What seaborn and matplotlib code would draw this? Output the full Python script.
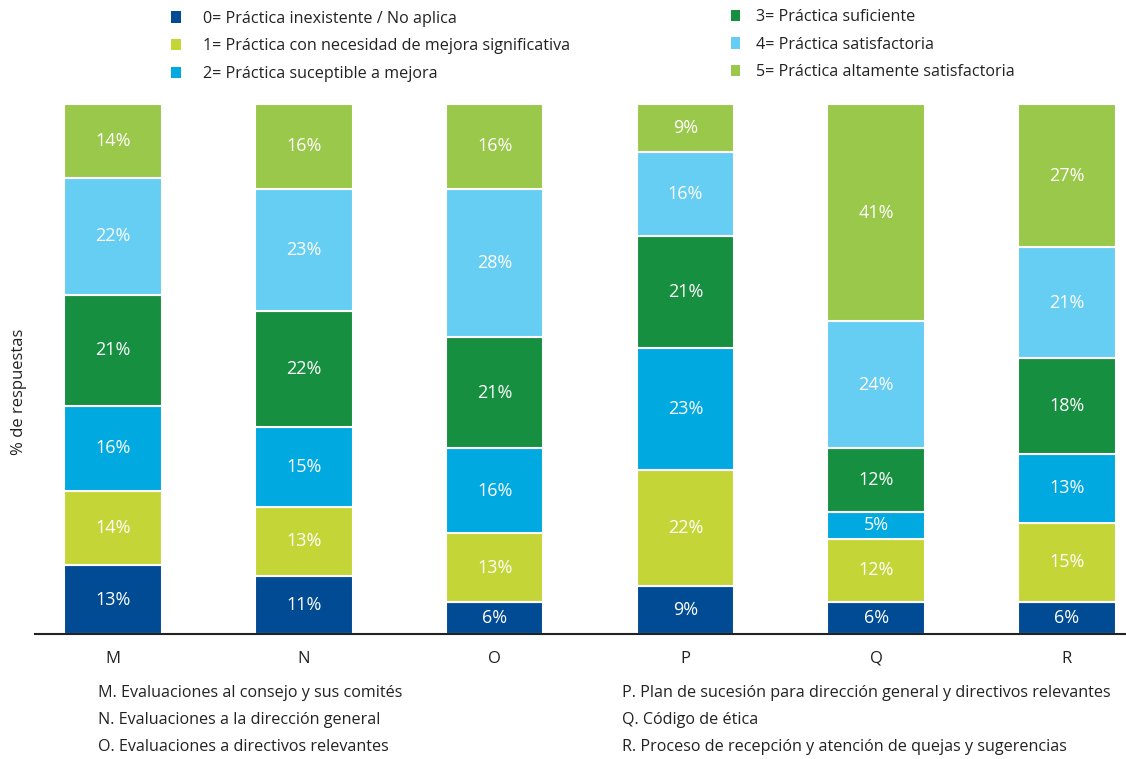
import numpy as np
import pandas as pd
import matplotlib
matplotlib.use("Agg")
import matplotlib.pyplot as plt
from matplotlib.patches import Patch
import seaborn as sns

# ---- data ----
categories = ["M", "N", "O", "P", "Q", "R"]
levels = [
    "0= Práctica inexistente / No aplica",
    "1= Práctica con necesidad de mejora significativa",
    "2= Práctica suceptible a mejora",
    "3= Práctica suficiente",
    "4= Práctica satisfactoria",
    "5= Práctica altamente satisfactoria",
]
v0 = [13, 11, 6, 9, 6, 6]
v1 = [14, 13, 13, 22, 12, 15]
v2 = [16, 15, 16, 23, 5, 13]
v3 = [21, 22, 21, 21, 12, 18]
v4 = [22, 23, 28, 16, 24, 21]
v5 = [14, 16, 16, 9, 41, 27]
series = [v0, v1, v2, v3, v4, v5]
colors = ["#004B93", "#C4D637", "#00A9E0", "#178F41", "#66CDF3", "#9AC84B"]

notes_left = [
    "M. Evaluaciones al consejo y sus comités",
    "N. Evaluaciones a la dirección general",
    "O. Evaluaciones a directivos relevantes",
]
notes_right = [
    "P. Plan de sucesión para dirección general y directivos relevantes",
    "Q. Código de ética",
    "R. Proceso de recepción y atención de quejas y sugerencias",
]

sns.set_style("white")
plt.rcParams["font.family"] = ["Open Sans", "DejaVu Sans"]

fig = plt.figure(figsize=(11.26, 7.59), dpi=100)
ax = fig.add_axes([0.031, 0.1647, 0.969, 0.6983])

bottom = np.zeros(len(categories))
handles = []
for vals, col, lab in zip(series, colors, levels):
    df = pd.DataFrame({"cat": categories, "val": vals})
    sns.barplot(data=df, x="cat", y="val", order=categories, color=col,
                saturation=1, width=0.51, bottom=bottom.copy(),
                edgecolor="white", linewidth=1.5, ax=ax, label=lab)
    cont = ax.containers[-1]
    handles.append(Patch(facecolor=cont.patches[0].get_facecolor(),
                         edgecolor="none"))
    ax.bar_label(cont, labels=[f"{v}%" for v in vals], label_type="center",
                 color="white", fontsize=13)
    bottom += np.array(vals)

ax.set_ylim(0, 100)
ax.set_xlim(-0.41, 5.31)
ax.set_yticks([])
ax.set_xlabel("")
ax.set_ylabel("")
for s in ["top", "right", "left"]:
    ax.spines[s].set_visible(False)
ax.spines["bottom"].set_color("#222222")
ax.spines["bottom"].set_linewidth(1.5)
ax.tick_params(axis="x", length=0, pad=12, labelsize=12, colors="#222222")
if ax.get_legend() is not None:
    ax.get_legend().remove()

fig.text(0.017, 1 - 392 / 759, "% de respuestas", rotation=90, ha="center",
         va="center", fontsize=12, color="#222222")

leg1 = fig.legend(handles[:3], levels[:3], loc="upper left",
                  bbox_to_anchor=(0.152, 0.986), frameon=False, fontsize=11.6,
                  handlelength=0.6, handleheight=0.7, handletextpad=1.35,
                  labelspacing=0.72, borderpad=0, borderaxespad=0)
leg2 = fig.legend(handles[3:], levels[3:], loc="upper left",
                  bbox_to_anchor=(0.649, 0.988), frameon=False, fontsize=11.6,
                  handlelength=0.6, handleheight=0.7, handletextpad=0.95,
                  labelspacing=0.72, borderpad=0, borderaxespad=0)
for lg in (leg1, leg2):
    for t in lg.get_texts():
        t.set_color("#222222")

for i, t in enumerate(notes_left):
    fig.text(98 / 1126, 1 - (693 + 27 * i) / 759, t, ha="left", va="center",
             fontsize=11.6, color="#222222")
for i, t in enumerate(notes_right):
    fig.text(622 / 1126, 1 - (693 + 27 * i) / 759, t, ha="left", va="center",
             fontsize=11.6, color="#222222")

fig.savefig("out.png", dpi=100, facecolor="white")
